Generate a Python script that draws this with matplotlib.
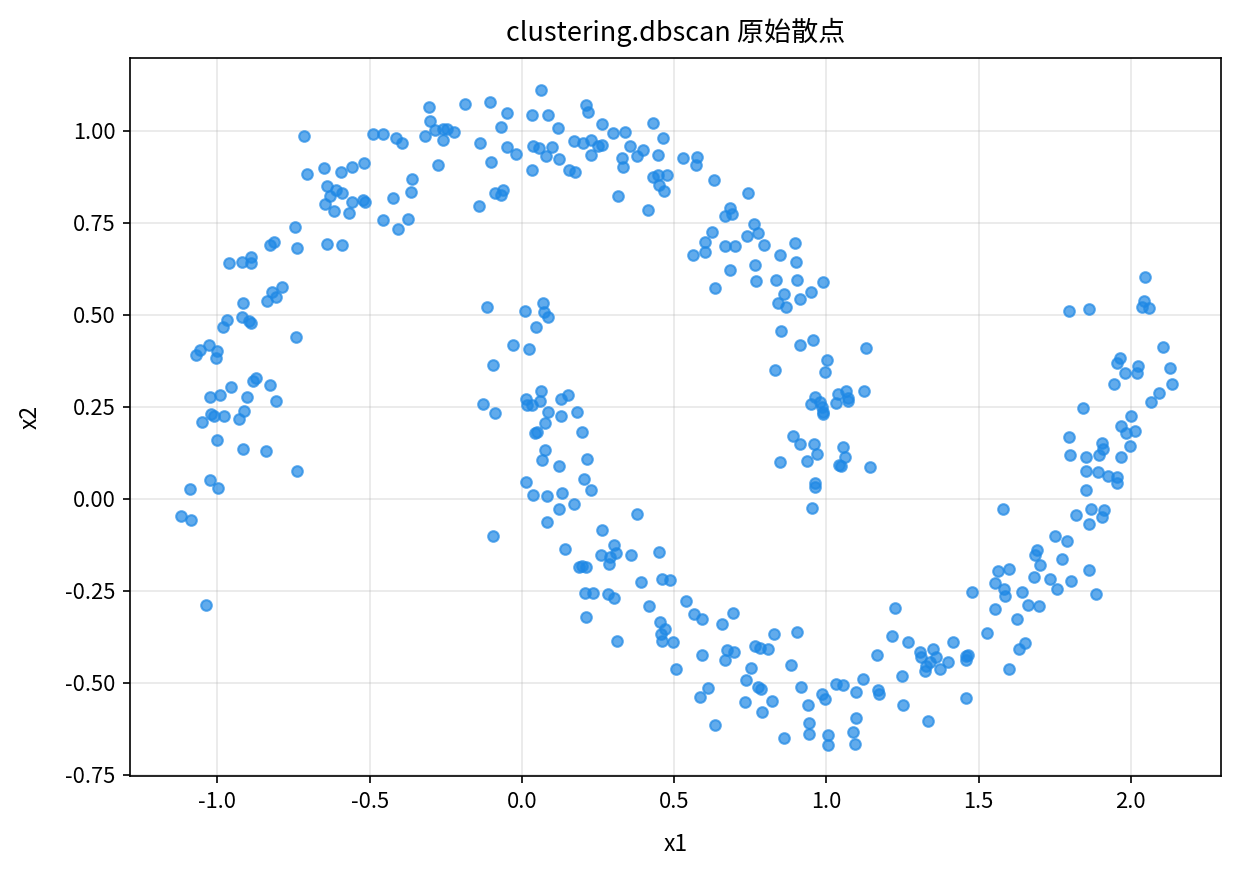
import matplotlib
matplotlib.use("Agg")
import matplotlib.pyplot as plt
import numpy as np

plt.rcParams['font.family'] = ['Noto Sans CJK SC', 'DejaVu Sans']
plt.rcParams['axes.unicode_minus'] = False

title = "clustering.dbscan 原始散点"
xlabel = "x1"
ylabel = "x2"

x1 = [
    -0.304, -0.186, -0.105, -0.302, -0.286, -0.258, -0.247, -0.222, -0.258, -0.319, -0.138, -0.275, -0.103, -0.089, -0.141,
    -0.716, -0.488, -0.455, -0.412, -0.395, -0.649, -0.705, -0.594, -0.557, -0.518, -0.641, -0.611, -0.590, -0.631, -0.362,
    -0.365, -0.423, -0.645, -0.617, -0.557, -0.521, -0.515, -0.568, -0.455, -0.373, -0.406, -0.745,
    -0.828, -0.814, -0.738, -0.639, -0.590, -0.961, -0.920, -0.891, -0.891, -0.789, -0.822, -0.809, -0.838, -0.917, -0.920,
    -0.968, -0.981, -0.895, -0.891, -0.742, -1.028, -1.057, -1.071, -1.001, -1.005, -0.116, -0.096, -0.129, -0.089, -0.874,
    -0.882, -0.956, -0.827, -1.025, -0.990, -0.904, -0.808, -0.912, -1.021, -1.011, -0.979, -0.929, -1.049,
    -1.001, -0.917, -0.840, -0.738, -1.025, -1.090, -0.998, -1.118, -1.087, -0.094, -1.038,
    0.062, -0.048, 0.034, 0.086, -0.069, 0.119, 0.212, 0.218, 0.264, 0.300, 0.338, 0.431, 0.464, -0.048, -0.020,
    0.037, 0.056, 0.100, 0.079, 0.123, 0.171, 0.201, 0.226, 0.251, 0.262, 0.227, 0.355, 0.398, 0.377, 0.329,
    0.333, 0.446, 0.034, 0.154, 0.174, -0.069, -0.061, 0.316, 0.431, 0.448, 0.478, 0.450, 0.467, 0.413, 0.530,
    0.574, 0.571, 0.631, 0.743, 0.683, 0.691, 0.667, 0.763, 0.776, 0.625, 0.738,
    0.601, 0.601, 0.563, 0.667, 0.700, 0.796, 0.897, 0.847, 0.900, 0.767, 0.684, 0.634, 0.770, 0.836, 0.905,
    0.990, 0.861, 0.951, 0.840, 0.866, 0.913, 0.851, 0.913, 0.957, 1.003, 0.995, 0.831,
    0.962, 0.949, 0.979, 0.984, 0.988, 0.988, 1.037, 1.063, 1.072, 1.030, 1.070, 1.130, 1.123, 1.143,
    0.891, 0.913, 0.960, 0.970, 0.847, 0.935, 1.055, 1.061, 1.042, 1.047, 0.962, 0.962, 0.953,
    0.070, 0.010, 0.072, 0.086, 0.046, -0.029, 0.024, 0.062, 0.015, 0.017, 0.034, 0.061, 0.130, 0.152, 0.086,
    0.130, 0.182,
    0.076, 0.043, 0.051, 0.198, 0.076, 0.067, 0.123, 0.215, 0.013, 0.204, 0.226, 0.037, 0.083, 0.132, 0.171,
    0.123, 0.083, 0.377, 0.264, 0.141, 0.302, 0.308, 0.259, 0.289, 0.287, 0.358, 0.450, 0.187, 0.198, 0.209,
    0.391, 0.459, 0.488, 0.207, 0.234, 0.283, 0.303,
    0.212, 0.313, 0.417, 0.538, 0.453, 0.470, 0.456, 0.459, 0.495, 0.506, 0.565, 0.590, 0.658, 0.694, 0.590,
    0.674, 0.697, 0.667, 0.765, 0.782, 0.807, 0.829, 0.904, 0.752, 0.736, 0.883, 0.612, 0.585, 0.774, 0.785,
    0.732, 0.822, 0.789, 0.634, 0.916, 0.940, 0.943, 0.943, 0.861, 0.986, 0.997, 1.006, 1.006, 1.030, 1.055,
    1.097, 1.097, 1.088, 1.094,
    1.225, 1.553, 1.627, 1.526, 1.652, 1.633, 1.600, 1.215, 1.267, 1.416, 1.167, 1.307, 1.310, 1.351, 1.360,
    1.340, 1.326, 1.325, 1.373, 1.398, 1.460, 1.466, 1.458, 1.458, 1.248, 1.252, 1.334, 1.119, 1.170, 1.173,
    2.046, 2.043, 2.035, 2.060, 1.797, 1.863, 2.106, 1.964, 1.953, 2.024, 2.021, 1.980, 2.128, 1.944, 2.134,
    2.093, 2.066, 1.843,
    2.000, 1.966, 1.985, 2.015, 1.796, 1.906, 1.909, 1.997, 1.800, 1.852, 1.895, 1.967, 1.852, 1.893, 1.926,
    1.955, 1.955, 1.852, 1.581, 1.869, 1.912, 1.819, 1.906, 1.862, 1.751, 1.791, 1.692, 1.685, 1.773, 1.701,
    1.564, 1.600, 1.862, 1.681, 1.734, 1.802, 1.553, 1.756, 1.584, 1.643, 1.477, 1.887, 1.587, 1.663, 1.699,
]

x2 = [
    1.064, 1.073, 1.079, 1.028, 1.003, 1.006, 1.005, 0.997, 0.974, 0.986, 0.967, 0.906, 0.916, 0.830, 0.797,
    0.986, 0.992, 0.992, 0.981, 0.967, 0.899, 0.883, 0.889, 0.902, 0.913, 0.849, 0.838, 0.832, 0.822, 0.870,
    0.834, 0.818, 0.800, 0.782, 0.807, 0.813, 0.807, 0.777, 0.757, 0.761, 0.734, 0.738,
    0.690, 0.699, 0.682, 0.693, 0.690, 0.640, 0.645, 0.657, 0.640, 0.575, 0.561, 0.548, 0.537, 0.533, 0.494,
    0.486, 0.467, 0.482, 0.477, 0.439, 0.418, 0.405, 0.391, 0.402, 0.382, 0.521, 0.363, 0.258, 0.234, 0.328,
    0.321, 0.305, 0.310, 0.278, 0.283, 0.278, 0.265, 0.239, 0.231, 0.226, 0.224, 0.217, 0.210,
    0.160, 0.136, 0.130, 0.076, 0.050, 0.027, 0.029, -0.046, -0.057, -0.101, -0.288,
    1.111, 1.049, 1.043, 1.043, 1.010, 1.008, 1.070, 1.052, 1.019, 0.995, 0.997, 1.022, 0.981, 0.957, 0.938,
    0.959, 0.954, 0.957, 0.931, 0.924, 0.972, 0.966, 0.976, 0.958, 0.961, 0.934, 0.958, 0.948, 0.933, 0.927,
    0.901, 0.934, 0.893, 0.893, 0.888, 0.827, 0.838, 0.824, 0.875, 0.881, 0.880, 0.852, 0.836, 0.785, 0.927,
    0.929, 0.907, 0.866, 0.832, 0.791, 0.775, 0.768, 0.748, 0.723, 0.726, 0.714,
    0.697, 0.671, 0.663, 0.686, 0.688, 0.690, 0.695, 0.663, 0.643, 0.636, 0.622, 0.573, 0.592, 0.595, 0.595,
    0.588, 0.556, 0.561, 0.533, 0.521, 0.543, 0.457, 0.418, 0.432, 0.378, 0.344, 0.351,
    0.276, 0.257, 0.262, 0.251, 0.237, 0.231, 0.285, 0.292, 0.274, 0.260, 0.267, 0.409, 0.293, 0.086,
    0.172, 0.149, 0.149, 0.122, 0.101, 0.103, 0.142, 0.115, 0.091, 0.088, 0.043, 0.033, -0.025,
    0.533, 0.511, 0.509, 0.494, 0.467, 0.418, 0.408, 0.292, 0.272, 0.254, 0.254, 0.265, 0.271, 0.283, 0.236,
    0.224, 0.236,
    0.206, 0.178, 0.181, 0.181, 0.133, 0.106, 0.090, 0.109, 0.047, 0.054, 0.024, 0.011, 0.008, 0.017, -0.014,
    -0.027, -0.063, -0.042, -0.084, -0.136, -0.125, -0.148, -0.152, -0.159, -0.177, -0.152, -0.145, -0.184, -0.182, -0.186,
    -0.226, -0.218, -0.221, -0.256, -0.256, -0.258, -0.270,
    -0.322, -0.386, -0.291, -0.277, -0.335, -0.353, -0.368, -0.385, -0.390, -0.462, -0.313, -0.326, -0.340, -0.311, -0.424,
    -0.410, -0.415, -0.439, -0.399, -0.406, -0.408, -0.368, -0.362, -0.460, -0.492, -0.451, -0.515, -0.537, -0.512, -0.517,
    -0.553, -0.549, -0.580, -0.614, -0.512, -0.561, -0.608, -0.639, -0.649, -0.531, -0.543, -0.641, -0.670, -0.503, -0.506,
    -0.525, -0.596, -0.634, -0.667,
    -0.297, -0.300, -0.326, -0.365, -0.392, -0.408, -0.463, -0.372, -0.388, -0.389, -0.424, -0.417, -0.429, -0.408, -0.430,
    -0.442, -0.453, -0.469, -0.463, -0.442, -0.428, -0.425, -0.438, -0.540, -0.481, -0.560, -0.603, -0.489, -0.519, -0.531,
    0.602, 0.538, 0.521, 0.518, 0.511, 0.515, 0.412, 0.382, 0.369, 0.360, 0.342, 0.342, 0.355, 0.312, 0.312,
    0.287, 0.263, 0.246,
    0.225, 0.197, 0.180, 0.185, 0.169, 0.153, 0.136, 0.144, 0.120, 0.115, 0.120, 0.115, 0.076, 0.073, 0.063,
    0.059, 0.043, 0.024, -0.028, -0.028, -0.030, -0.043, -0.050, -0.068, -0.101, -0.114, -0.139, -0.152, -0.163, -0.181,
    -0.195, -0.190, -0.193, -0.211, -0.217, -0.224, -0.229, -0.245, -0.245, -0.254, -0.254, -0.258, -0.265, -0.288, -0.291,
]

assert len(x1) == len(x2)

fig = plt.figure(figsize=(1239 / 150, 875 / 150), dpi=150)
ax = fig.add_axes([130 / 1239, 1 - 776 / 875, (1221 - 130) / 1239, (776 - 58) / 875])
ax.scatter(x1, x2, s=26, color='#1E88E5', alpha=0.7, linewidths=1.0, zorder=3)
ax.grid(True, color='#b0b0b0', alpha=0.3, linewidth=0.8, zorder=0)
ax.set_axisbelow(True)
ax.set_xlim(-1.287, 2.296)
ax.set_ylim(-0.753, 1.198)
ax.set_title(title, fontsize=13, pad=8)
ax.set_xlabel(xlabel, fontsize=11, labelpad=10)
ax.set_ylabel(ylabel, fontsize=11, labelpad=11)
ax.tick_params(labelsize=10.5)
ax.set_xticks([-1.0, -0.5, 0.0, 0.5, 1.0, 1.5, 2.0])
ax.set_yticks([-0.75, -0.5, -0.25, 0.0, 0.25, 0.5, 0.75, 1.0])
ax.set_xticklabels(["-1.0", "-0.5", "0.0", "0.5", "1.0", "1.5", "2.0"])
ax.set_yticklabels(["-0.75", "-0.50", "-0.25", "0.00", "0.25", "0.50", "0.75", "1.00"])
fig.savefig("out.png", dpi=150)
